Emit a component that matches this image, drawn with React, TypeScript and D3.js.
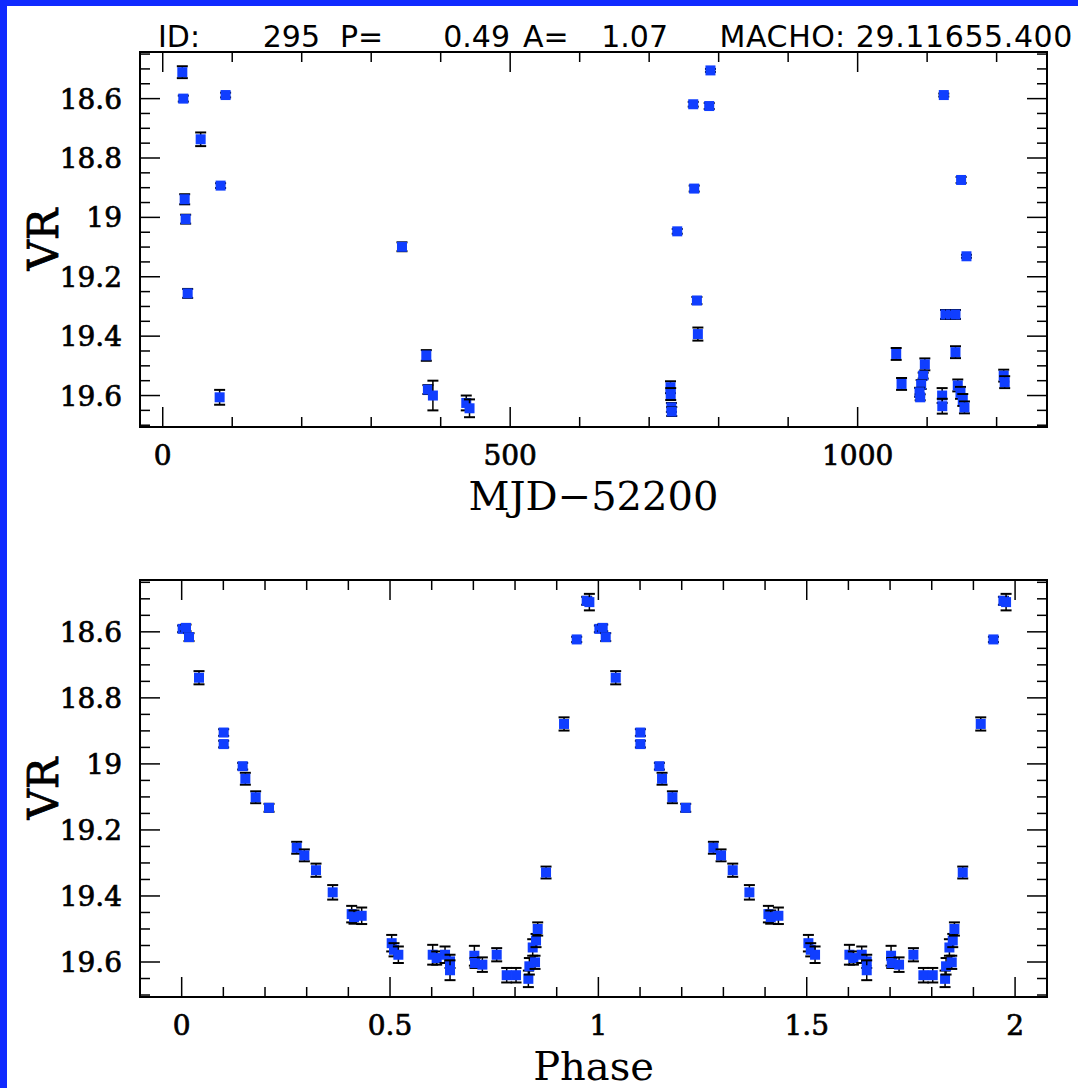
import React from "react";
import * as d3 from "d3";

// ---- Data ----
const mjd = [
  28.2, 29.6, 54.6, 90.5, 83.3, 31.6, 33.0, 35.9, 81.9, 344.3, 379.3, 381.6, 388.8, 436.8, 441.5,
  788.2, 763.4, 786.4, 764.8, 740.4, 768.7, 770.1, 730.7, 731.0, 732.0, 732.5,
  1124.0, 1148.9, 1156.6, 1126.4, 1133.6, 1140.8, 1055.5, 1063.2, 1096.7, 1094.3, 1091.4, 1089.1, 1090.0,
  1121.6, 1121.8, 1140.8, 1144.1, 1148.0, 1151.3, 1153.7, 1210.2, 1211.6,
];
const mjdMag = [
  18.511, 18.6, 18.737, 18.588, 18.893, 18.939, 19.006, 19.256, 19.606, 19.099, 19.465, 19.58, 19.6, 19.625, 19.643,
  18.505, 18.619, 18.625, 18.903, 19.047, 19.28, 19.393, 19.572, 19.595, 19.64, 19.654,
  18.588, 18.874, 19.131, 19.327, 19.327, 19.327, 19.46, 19.561, 19.495, 19.533, 19.563, 19.589, 19.606,
  19.6, 19.636, 19.454, 19.566, 19.591, 19.615, 19.64, 19.533, 19.555,
];
const mjdErr = [
  0.02, 0.01, 0.023, 0.008, 0.008, 0.017, 0.015, 0.015, 0.025, 0.015, 0.018, 0.015, 0.05, 0.025, 0.03,
  0.005, 0.008, 0.01, 0.01, 0.008, 0.012, 0.022, 0.02, 0.02, 0.015, 0.015,
  0.005, 0.01, 0.005, 0.015, 0.015, 0.015, 0.02, 0.02, 0.02, 0.01, 0.015, 0.015, 0.01,
  0.025, 0.025, 0.02, 0.02, 0.02, 0.02, 0.02, 0.02, 0.02,
];

const phase = [
  0.0024, 0.0104, 0.0176, 0.0416, 0.1008, 0.1008, 0.1464, 0.1528, 0.1776, 0.2096, 0.276, 0.2944, 0.3224, 0.3624,
  0.408, 0.4136, 0.432, 0.504, 0.5096, 0.52, 0.6024, 0.612, 0.632, 0.644, 0.644, 0.7024, 0.704, 0.7216, 0.756,
  0.78, 0.8024, 0.832, 0.8344, 0.848, 0.8424, 0.8504, 0.8544, 0.8744, 0.9176, 0.948, 0.972, 0.9784,
];
const phaseMag = [
  18.591, 18.588, 18.616, 18.739, 18.905, 18.94, 19.007, 19.045, 19.101, 19.133, 19.254, 19.277, 19.322, 19.389,
  19.455, 19.464, 19.46, 19.543, 19.563, 19.578, 19.578, 19.588, 19.578, 19.598, 19.625, 19.581, 19.603, 19.608, 19.578,
  19.64, 19.64, 19.651, 19.613, 19.601, 19.556, 19.535, 19.5, 19.329, 18.879, 18.623, 18.506, 18.51,
];
const phaseErr = [
  0.01, 0.01, 0.012, 0.02, 0.01, 0.01, 0.01, 0.018, 0.018, 0.012, 0.018, 0.018, 0.02, 0.022,
  0.025, 0.02, 0.025, 0.025, 0.02, 0.025, 0.03, 0.02, 0.025, 0.02, 0.03, 0.03, 0.015, 0.022, 0.02,
  0.022, 0.022, 0.025, 0.025, 0.02, 0.025, 0.02, 0.02, 0.018, 0.02, 0.008, 0.012, 0.025,
];

const magTicks = [18.6, 18.8, 19, 19.2, 19.4, 19.6];
const mjdTicks = [0, 500, 1000];
const phaseTicks = [0, 0.5, 1, 1.5, 2];
const titleParts = ["ID:", "295", "P=", "0.49", "A=", "1.07", "MACHO: 29.11655.400"];

const BLUE_BG = "rgb(16,42,255)";
const MARK = "rgb(16,62,255)";
const SERIF = "'DejaVu Serif', serif";
const SANS = "'DejaVu Sans', sans-serif";

function minorValues(domain: number[], step: number) {
  const lo = Math.min(domain[0], domain[1]);
  const hi = Math.max(domain[0], domain[1]);
  const out: number[] = [];
  for (let i = Math.ceil(lo / step - 1e-9); i <= Math.floor(hi / step + 1e-9); i++) out.push(+(i * step).toFixed(6));
  return out;
}

type PanelProps = {
  x0: number; x1: number; y0: number; y1: number;
  xDomain: number[]; yDomain: number[];
  xMajor: number[]; xMinorStep: number;
  xs: number[][]; ys: number[]; es: number[];
  xTitle: string;
};

function Panel(p: PanelProps) {
  const x = d3.scaleLinear().domain(p.xDomain).range([p.x0, p.x1]);
  const y = d3.scaleLinear().domain(p.yDomain).range([p.y0, p.y1]);
  const maj = 20, mnr = 10;
  const xMin = minorValues(p.xDomain, p.xMinorStep);
  const yMin = minorValues(p.yDomain, 0.05);
  const isMajX = (v: number) => p.xMajor.some((m) => Math.abs(m - v) < 1e-6);
  const isMajY = (v: number) => magTicks.some((m) => Math.abs(m - v) < 1e-6);
  const fmt = (v: number) => d3.format("")(+v.toFixed(3));
  const cap = 5.5;
  const half = 5;
  const pts: JSX.Element[] = [];
  p.xs.forEach((row, k) => {
    row.forEach((xv, i) => {
      const cx = x(xv), cy = y(p.ys[i]);
      const ya = y(p.ys[i] - p.es[i]), yb = y(p.ys[i] + p.es[i]);
      pts.push(
        <g key={`${k}-${i}`}>
          <line x1={cx} x2={cx} y1={ya} y2={yb} stroke="#000" strokeWidth={1.5} />
          <line x1={cx - cap} x2={cx + cap} y1={ya} y2={ya} stroke="#000" strokeWidth={2} />
          <line x1={cx - cap} x2={cx + cap} y1={yb} y2={yb} stroke="#000" strokeWidth={2} />
          <rect x={cx - half} y={cy - half} width={half * 2} height={half * 2} fill={MARK} />
        </g>
      );
    });
  });
  const midY = (p.y0 + p.y1) / 2;
  return (
    <g>
      {xMin.map((v) => {
        const L = isMajX(v) ? maj : mnr;
        return (
          <g key={"xt" + v}>
            <line x1={x(v)} x2={x(v)} y1={p.y1} y2={p.y1 - L} stroke="#000" strokeWidth={1.5} />
            <line x1={x(v)} x2={x(v)} y1={p.y0} y2={p.y0 + L} stroke="#000" strokeWidth={1.5} />
          </g>
        );
      })}
      {yMin.map((v) => {
        const L = isMajY(v) ? maj : mnr;
        return (
          <g key={"yt" + v}>
            <line x1={p.x0} x2={p.x0 + L} y1={y(v)} y2={y(v)} stroke="#000" strokeWidth={1.5} />
            <line x1={p.x1} x2={p.x1 - L} y1={y(v)} y2={y(v)} stroke="#000" strokeWidth={1.5} />
          </g>
        );
      })}
      {pts}
      <rect x={p.x0} y={p.y0} width={p.x1 - p.x0} height={p.y1 - p.y0} fill="none" stroke="#000" strokeWidth={2} />
      {p.xMajor.map((v) => (
        <text key={"xl" + v} x={x(v)} y={p.y1 + 38} textAnchor="middle" fontFamily={SERIF} fontSize={28}
          fill="#000" stroke="#000" strokeWidth={0.7}>
          {fmt(v)}
        </text>
      ))}
      {magTicks.map((v) => (
        <text key={"yl" + v} x={p.x0 - 18} y={y(v) + 10} textAnchor="end" fontFamily={SERIF} fontSize={28}
          fill="#000" stroke="#000" strokeWidth={0.7}>
          {fmt(v)}
        </text>
      ))}
      <text x={(p.x0 + p.x1) / 2} y={p.y1 + 83} textAnchor="middle" fontFamily={SERIF} fontSize={40} fill="#000">
        {p.xTitle}
      </text>
      <text transform={`translate(58,${midY}) rotate(-90)`} textAnchor="middle" fontFamily={SERIF} fontSize={42}
        fill="#000" stroke="#000" strokeWidth={0.8}>
        VR
      </text>
    </g>
  );
}

export default function App() {
  const magDomain = [18.443, 19.706];
  return (
    <svg width={1078} height={1088} style={{ position: "absolute", left: 0, top: 0 }}>
      <rect x={0} y={0} width={1078} height={1088} fill={BLUE_BG} />
      <rect x={7} y={6} width={1071} height={1082} fill="#fff" />
      <g fontFamily={SANS} fontSize={30} fill="#000">
        <text x={158} y={47}>{titleParts[0]}</text>
        <text x={320} y={47} textAnchor="end">{titleParts[1]}</text>
        <text x={340} y={47}>{titleParts[2]}</text>
        <text x={510} y={47} textAnchor="end">{titleParts[3]}</text>
        <text x={523} y={47}>{titleParts[4]}</text>
        <text x={668} y={47} textAnchor="end">{titleParts[5]}</text>
        <text x={1073} y={47} textAnchor="end" letterSpacing={0.6}>{titleParts[6]}</text>
      </g>
      <Panel
        x0={140} x1={1047} y0={52} y1={427}
        xDomain={[-32.7, 1272.5]} yDomain={magDomain}
        xMajor={mjdTicks} xMinorStep={100}
        xs={[mjd]} ys={mjdMag} es={mjdErr}
        xTitle="MJD−52200"
      />
      <Panel
        x0={140} x1={1047} y0={580} y1={997}
        xDomain={[-0.1, 2.0766]} yDomain={magDomain}
        xMajor={phaseTicks} xMinorStep={0.1}
        xs={[phase, phase.map((v) => v + 1)]} ys={phaseMag} es={phaseErr}
        xTitle="Phase"
      />
    </svg>
  );
}
